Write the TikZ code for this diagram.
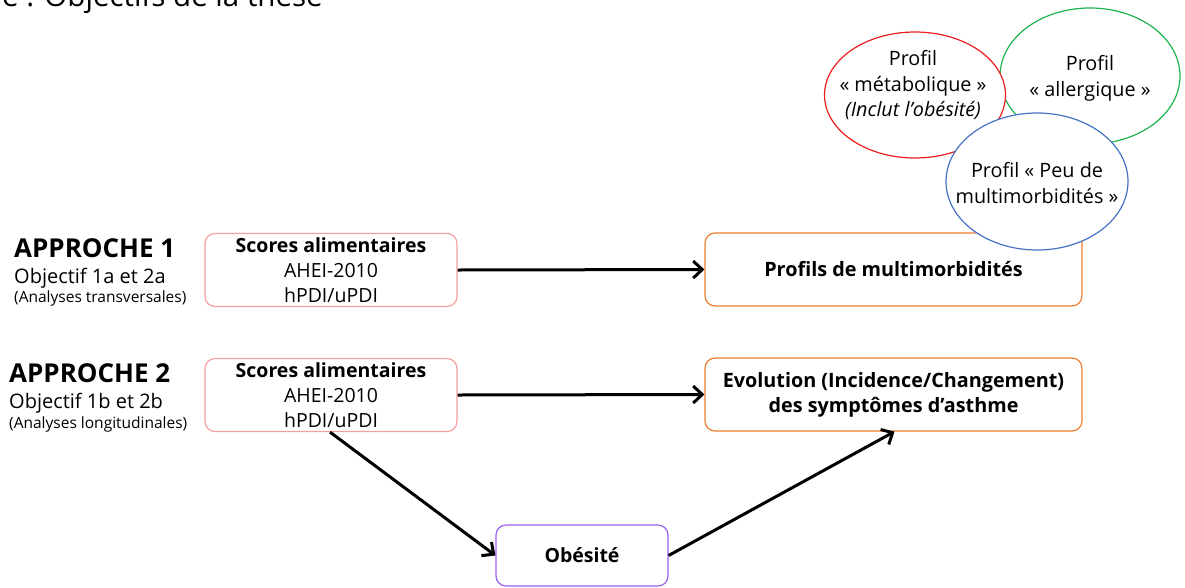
\documentclass[tikz,border=0pt]{standalone}
\usepackage{fontspec}
\setmainfont{Open Sans}
\usetikzlibrary{arrows.meta}
\definecolor{pinkb}{RGB}{244,160,160}
\definecolor{orangeb}{RGB}{237,125,49}
\definecolor{purpleb}{RGB}{155,95,235}
\definecolor{redc}{RGB}{235,30,30}
\definecolor{greenc}{RGB}{30,180,80}
\definecolor{bluec}{RGB}{70,114,196}
\tikzset{
  scorebox/.style={draw=pinkb, line width=1.2pt, rounded corners=10pt, minimum width=252pt, minimum height=73pt, align=center, inner sep=0pt, font=\fontsize{19.5}{25}\selectfont},
  outbox/.style={draw=orangeb, line width=1.2pt, rounded corners=10pt, minimum width=377pt, minimum height=73pt, align=center, inner sep=0pt, font=\bfseries\fontsize{19.8}{25}\selectfont},
  obbox/.style={draw=purpleb, line width=1.2pt, rounded corners=10pt, minimum width=172pt, minimum height=61pt, align=center, inner sep=0pt, font=\bfseries\fontsize{19.5}{25}\selectfont},
  ell/.style={line width=1.2pt},
  proftxt/.style={inner sep=0pt, align=center, font=\fontsize{19.8}{25.5}\selectfont},
  arr/.style={line width=3pt, -{Straight Barb[length=9pt,width=17pt]}},
  lbl/.style={anchor=base west, inner sep=0pt, align=left},
}
\begin{document}
\begin{tikzpicture}[x=1pt,y=-1pt]
\useasboundingbox (0,0) rectangle (1185,587);
\clip (0,0) rectangle (1185,587);
\node[anchor=base west, inner sep=0pt, font=\fontsize{29.5}{31}\selectfont] (title) at (2,6) {e : Objectifs de la thèse};
% left labels
\node[lbl, font=\bfseries\fontsize{26}{28}\selectfont] (ap1) at (14,257) {APPROCHE 1};
\node[lbl, font=\fontsize{20}{22}\selectfont] (ob1) at (14,283) {Objectif 1a et 2a};
\node[lbl, font=\fontsize{15.5}{17}\selectfont] (an1) at (14,302) {(Analyses transversales)};
\node[lbl, font=\bfseries\fontsize{26}{28}\selectfont] (ap2) at (9,382) {APPROCHE 2};
\node[lbl, font=\fontsize{20}{22}\selectfont] (ob2) at (9,408) {Objectif 1b et 2b};
\node[lbl, font=\fontsize{15.5}{17}\selectfont] (an2) at (9,428) {(Analyses longitudinales)};
% boxes
\node[scorebox] (s1) at (331,270) {\textbf{Scores alimentaires}\\AHEI-2010\\hPDI/uPDI};
\node[scorebox] (s2) at (331,395) {\textbf{Scores alimentaires}\\AHEI-2010\\hPDI/uPDI};
\node[outbox] (m1) at (893.5,269.5) {Profils de multimorbidités};
\node[outbox] (m2) at (893.5,394.5) {Evolution (Incidence/Changement)\\des symptômes d’asthme};
\node[obbox] (obe) at (582,555.5) {Obésité};
% ellipses
\draw[ell, draw=greenc] (1090,76) ellipse [x radius=90, y radius=68];
\draw[ell, draw=redc, fill=white] (915,95) ellipse [x radius=90.5, y radius=63];
\draw[ell, draw=bluec, fill=white] (1037,181.5) ellipse [x radius=91, y radius=68.5];
\node[proftxt] (pmet) at (913,85) {Profil\\« métabolique »\\\textit{(Inclut l’obésité)}};
\node[proftxt] (pall) at (1090,78.5) {Profil\\« allergique »};
\node[proftxt] (ppeu) at (1037,183) {Profil « Peu de\\multimorbidités »};
% arrows
\draw[arr] (s1.east) -- (m1.west);
\draw[arr] (s2.east) -- (m2.west);
\draw[arr] ([xshift=-1pt]s2.south) -- (obe.west);
\draw[arr] (obe.east) -- ([xshift=1pt]m2.south);
\end{tikzpicture}
\end{document}
